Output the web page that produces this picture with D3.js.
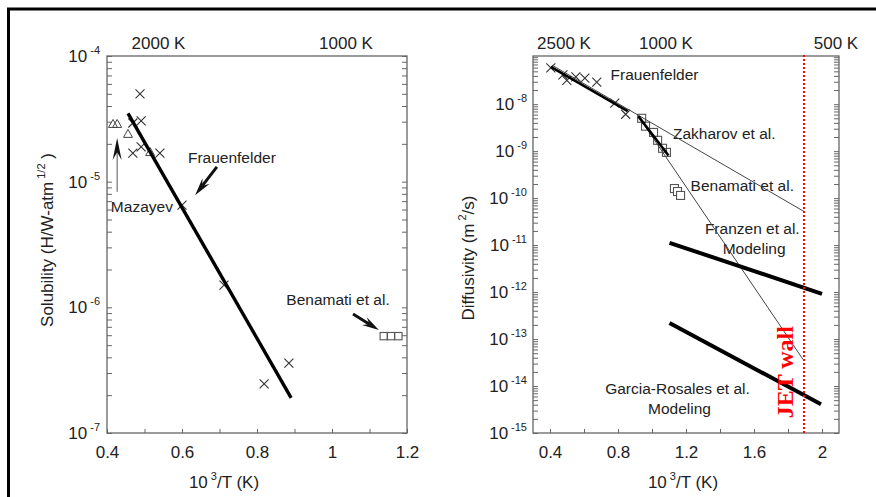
<!DOCTYPE html>
<html>
<head>
<meta charset="utf-8">
<script src="https://cdn.jsdelivr.net/npm/d3@7"></script>
<style>
  body { margin: 0; background: #fff; }
  svg text { font-family: "Liberation Sans", Arial, sans-serif; fill: #222; }
</style>
</head>
<body>
<div id="chart"></div>
<script>
// ---- left panel: solubility ----
var leftXDomain = [0.4, 1.2];
var leftYDomain = [1e-7, 1e-4];
var leftXTicks = [0.4, 0.5, 0.6, 0.7, 0.8, 0.9, 1.0, 1.1, 1.2];
var leftXLabels = [0.4, 0.6, 0.8, 1.0, 1.2];
var leftDecades = [1e-7, 1e-6, 1e-5, 1e-4];
var leftTemps = [2000, 1000];

var solFrauenX = [0.488, 0.469, 0.491, 0.469, 0.491, 0.541, 0.600, 0.712, 0.819, 0.885];
var solFrauenS = [5.0e-5, 2.93e-5, 3.04e-5, 1.69e-5, 1.89e-5, 1.69e-5, 6.5e-6, 1.5e-6, 2.46e-7, 3.6e-7];
var solMazX = [0.416, 0.427, 0.456, 0.515];
var solMazS = [2.88e-5, 2.88e-5, 2.4e-5, 1.72e-5];
var solBenX = [1.138, 1.157, 1.177];
var solBenS = [5.9e-7, 5.9e-7, 5.9e-7];
var solFitX = [0.456, 0.891];
var solFitS = [3.5e-5, 1.9e-7];

// ---- right panel: diffusivity ----
var rightXDomain = [0.3, 2.1];
var rightYDomain = [1e-15, 1.06e-7];
var rightXTicks = [0.4, 0.6, 0.8, 1.0, 1.2, 1.4, 1.6, 1.8, 2.0];
var rightXLabels = [0.4, 0.8, 1.2, 1.6, 2.0];
var rightDecades = [1e-15, 1e-14, 1e-13, 1e-12, 1e-11, 1e-10, 1e-9, 1e-8];
var rightTemps = [2500, 1000, 500];

var difFrauenX = [0.405, 0.476, 0.499, 0.552, 0.605, 0.675, 0.781, 0.845];
var difFrauenD = [5.9e-8, 4.2e-8, 3.2e-8, 3.8e-8, 3.6e-8, 2.95e-8, 1.05e-8, 6.1e-9];
var difZakX = [0.939, 0.962, 1.009, 1.033, 1.062, 1.085];
var difZakD = [5.0e-9, 3.4e-9, 2.5e-9, 1.7e-9, 1.15e-9, 9.4e-10];
var difBenX = [1.132, 1.150, 1.168];
var difBenD = [1.6e-10, 1.38e-10, 1.14e-10];

var frauenFitX = [0.405, 0.857],  frauenFitD = [6.2e-8, 7.1e-9];
var frauenExtX = [0.411, 1.894],  frauenExtD = [6.8e-8, 5.2e-11];
var zakFitX = [0.92, 1.097],      zakFitD = [5.5e-9, 8.1e-10];
var zakExtX = [0.92, 1.888],      zakExtD = [5.5e-9, 3.7e-14];
var franzenX = [1.103, 2.0],      franzenD = [1.12e-11, 9.2e-13];
var garciaX = [1.103, 1.994],     garciaD = [2.2e-13, 4.1e-15];
var jetWall = 1.894;

var svg = d3.select("#chart").append("svg")
  .attr("width", 876)
  .attr("height", 497);

// outer frame (clipped at right and bottom)
svg.append("path")
  .attr("d", "M8.5,497V9H876")
  .attr("fill", "none")
  .attr("stroke", "#000")
  .attr("stroke-width", 3);

var pL = { left: 107, right: 407, top: 56, bottom: 433 };
var pR = { left: 533, right: 839, top: 56, bottom: 433 };

var xL = d3.scaleLinear().domain(leftXDomain).range([pL.left, pL.right]);
var yL = d3.scaleLog().domain(leftYDomain).range([pL.bottom, pL.top]);
var xR = d3.scaleLinear().domain(rightXDomain).range([pR.left, pR.right]);
var yR = d3.scaleLog().domain(rightYDomain).range([pR.bottom, pR.top]);

function fmt(d) { return String(+d.toFixed(2)); }

function drawAxes(p, x, y, xTicks, xLabels, decades, temps, labelGap) {
  var g = svg.append("g");

  g.append("g")
    .attr("transform", "translate(0," + p.bottom + ")")
    .call(d3.axisBottom(x).tickValues(xTicks).tickSize(-4).tickSizeOuter(0).tickPadding(13)
      .tickFormat(function(d) { return xLabels.indexOf(d) >= 0 ? fmt(d) : ""; }));

  g.append("g")
    .attr("transform", "translate(" + p.left + ",0)")
    .call(d3.axisLeft(y).tickValues(y.ticks()).tickSize(-5).tickSizeOuter(0).tickFormat(""));

  g.append("g")
    .attr("transform", "translate(" + p.right + ",0)")
    .call(d3.axisRight(y).tickValues(y.ticks()).tickSize(-5).tickSizeOuter(0).tickFormat(""));

  g.selectAll(".domain").remove();
  g.selectAll(".tick line").attr("stroke", "#666").attr("stroke-width", 1);
  g.selectAll(".tick text")
    .style("font-size", "17px")
    .style("font-family", "'Liberation Sans', Arial, sans-serif")
    .attr("fill", "#222");

  g.append("rect")
    .attr("x", p.left).attr("y", p.top)
    .attr("width", p.right - p.left).attr("height", p.bottom - p.top)
    .attr("fill", "none").attr("stroke", "#666").attr("stroke-width", 1.3);

  // decade labels with superscript exponent
  decades.forEach(function(d) {
    var t = g.append("text")
      .attr("x", p.left - labelGap)
      .attr("y", y(d))
      .attr("dy", "0.36em")
      .attr("text-anchor", "end")
      .style("font-size", "17px");
    t.append("tspan").text("10");
    t.append("tspan")
      .attr("dx", 3).attr("dy", -8)
      .style("font-size", "11px")
      .text(String(Math.round(Math.log10(d))));
  });

  // temperature labels on top
  temps.forEach(function(T) {
    g.append("text")
      .attr("x", x(1000 / T) + 14)
      .attr("y", 43)
      .attr("dy", "0.36em")
      .attr("text-anchor", "middle")
      .style("font-size", "17px")
      .text(T + " K");
  });
  return g;
}

function xTitle(cx) {
  var t = svg.append("text")
    .attr("x", cx).attr("y", 488)
    .attr("text-anchor", "middle")
    .style("font-size", "17px");
  t.append("tspan").text("10");
  t.append("tspan").attr("dx", 3).attr("dy", -8).style("font-size", "11px").text("3");
  t.append("tspan").attr("dy", 8).text("/T (K)");
}

function yTitle(cx, cy, main, sup, tail) {
  var t = svg.append("text")
    .attr("transform", "translate(" + cx + "," + cy + ") rotate(-90)")
    .attr("dy", "0.36em")
    .attr("text-anchor", "middle")
    .style("font-size", "17px");
  t.append("tspan").text(main);
  t.append("tspan").attr("dx", 3).attr("dy", -8).style("font-size", "11px").text(sup);
  t.append("tspan").attr("dy", 8).text(tail);
}

function line(x, y, xs, ys, w, color) {
  svg.append("path")
    .datum(d3.zip(xs, ys))
    .attr("d", d3.line().x(function(d) { return x(d[0]); }).y(function(d) { return y(d[1]); }))
    .attr("fill", "none")
    .attr("stroke", color)
    .attr("stroke-width", w)
    .attr("stroke-linecap", "butt");
}

function crosses(x, y, xs, ys, s) {
  svg.append("g").selectAll("path")
    .data(d3.zip(xs, ys)).enter().append("path")
    .attr("transform", function(d) { return "translate(" + x(d[0]) + "," + y(d[1]) + ")"; })
    .attr("d", "M" + (-s) + "," + (-s) + "L" + s + "," + s + "M" + (-s) + "," + s + "L" + s + "," + (-s))
    .attr("fill", "none").attr("stroke", "#333").attr("stroke-width", 1.1);
}

function triangles(x, y, xs, ys) {
  svg.append("g").selectAll("path")
    .data(d3.zip(xs, ys)).enter().append("path")
    .attr("transform", function(d) { return "translate(" + x(d[0]) + "," + y(d[1]) + ")"; })
    .attr("d", "M0,-4.5L4.5,3.5L-4.5,3.5Z")
    .attr("fill", "none").attr("stroke", "#444").attr("stroke-width", 1);
}

function squares(x, y, xs, ys, s, fill) {
  svg.append("g").selectAll("rect")
    .data(d3.zip(xs, ys)).enter().append("rect")
    .attr("x", function(d) { return x(d[0]) - s / 2; })
    .attr("y", function(d) { return y(d[1]) - s / 2; })
    .attr("width", s).attr("height", s)
    .attr("fill", fill).attr("stroke", "#555").attr("stroke-width", 1.1);
}

function label(x, y, px, val, txt, size) {
  svg.append("text")
    .attr("x", x(px)).attr("y", y(val))
    .attr("dy", "0.36em")
    .attr("text-anchor", "middle")
    .style("font-size", (size || 15.5) + "px")
    .text(txt);
}

// dart shaped arrow from tail to tip
function arrow(x, y, tail, tip, shaftW, shaftColor, headLen, headW) {
  var x1 = x(tail[0]), y1 = y(tail[1]), x2 = x(tip[0]), y2 = y(tip[1]);
  var dx = x2 - x1, dy = y2 - y1, L = Math.sqrt(dx * dx + dy * dy);
  var ux = dx / L, uy = dy / L, nx = -uy, ny = ux;
  var bx = x2 - ux * headLen, by = y2 - uy * headLen;
  var mx = x2 - ux * headLen * 0.65, my = y2 - uy * headLen * 0.65;
  svg.append("line")
    .attr("x1", x1).attr("y1", y1).attr("x2", mx).attr("y2", my)
    .attr("stroke", shaftColor).attr("stroke-width", shaftW);
  svg.append("path")
    .attr("d", "M" + x2 + "," + y2 +
      "L" + (bx + nx * headW / 2) + "," + (by + ny * headW / 2) +
      "L" + mx + "," + my +
      "L" + (bx - nx * headW / 2) + "," + (by - ny * headW / 2) + "Z")
    .attr("fill", "#111");
}

drawAxes(pL, xL, yL, leftXTicks, leftXLabels, leftDecades, leftTemps, 7);
drawAxes(pR, xR, yR, rightXTicks, rightXLabels, rightDecades, rightTemps, 6);

xTitle(224);
xTitle(683);
yTitle(47, 240, "Solubility (H/W-atm", "1/2", " )");
yTitle(468, 258, "Diffusivity (m", "2", "/s)");

// ---- left panel marks ----
triangles(xL, yL, solMazX, solMazS);
crosses(xL, yL, solFrauenX, solFrauenS, 4.5);
squares(xL, yL, solBenX, solBenS, 7.3, "none");
line(xL, yL, solFitX, solFitS, 3.4, "#000");

label(xL, yL, 0.733, 1.57e-5, "Frauenfelder");
label(xL, yL, 0.493, 6.4e-6, "Mazayev");
label(xL, yL, 1.016, 1.15e-6, "Benamati et al.");
arrow(xL, yL, [0.693, 1.31e-5], [0.635, 7.8e-6], 3, "#111", 18, 9);
arrow(xL, yL, [0.427, 8.3e-6], [0.427, 2.23e-5], 1, "#555", 22, 9);
arrow(xL, yL, [1.056, 8.85e-7], [1.125, 6.6e-7], 3, "#111", 17, 9);

// ---- right panel marks ----
squares(xR, yR, difZakX, difZakD, 8, "none");
squares(xR, yR, difBenX, difBenD, 8, "#fff");
crosses(xR, yR, difFrauenX, difFrauenD, 4.5);

label(xR, yR, 1.015, 4.4e-8, "Frauenfelder");
label(xR, yR, 1.425, 2.4e-9, "Zakharov et al.");
label(xR, yR, 1.531, 1.86e-10, "Benamati et al.");
label(xR, yR, 1.590, 2.24e-11, "Franzen et al.");
label(xR, yR, 1.601, 8.4e-12, "Modeling");
label(xR, yR, 1.150, 9.0e-15, "Garcia-Rosales et al.");
label(xR, yR, 1.162, 3.4e-15, "Modeling");

line(xR, yR, frauenExtX, frauenExtD, 1, "#444");
line(xR, yR, zakExtX, zakExtD, 1, "#444");
line(xR, yR, frauenFitX, frauenFitD, 2.6, "#000");
line(xR, yR, zakFitX, zakFitD, 2.6, "#000");
line(xR, yR, franzenX, franzenD, 4, "#000");
line(xR, yR, garciaX, garciaD, 4, "#000");

// JET wall marker
svg.append("line")
  .attr("x1", xR(jetWall)).attr("x2", xR(jetWall))
  .attr("y1", pR.top - 1).attr("y2", pR.bottom)
  .attr("stroke", "#f00").attr("stroke-width", 2)
  .attr("stroke-dasharray", "2,2");

svg.append("text")
  .attr("transform", "translate(" + xR(1.777) + "," + yR(1.97e-14) + ") rotate(-90)")
  .attr("dy", "0.36em")
  .attr("text-anchor", "middle")
  .style("font-family", "'Liberation Serif', 'Times New Roman', serif")
  .style("font-weight", "bold")
  .style("font-size", "24px")
  .style("fill", "#f00")
  .text("JET wall");
</script>
</body>
</html>
